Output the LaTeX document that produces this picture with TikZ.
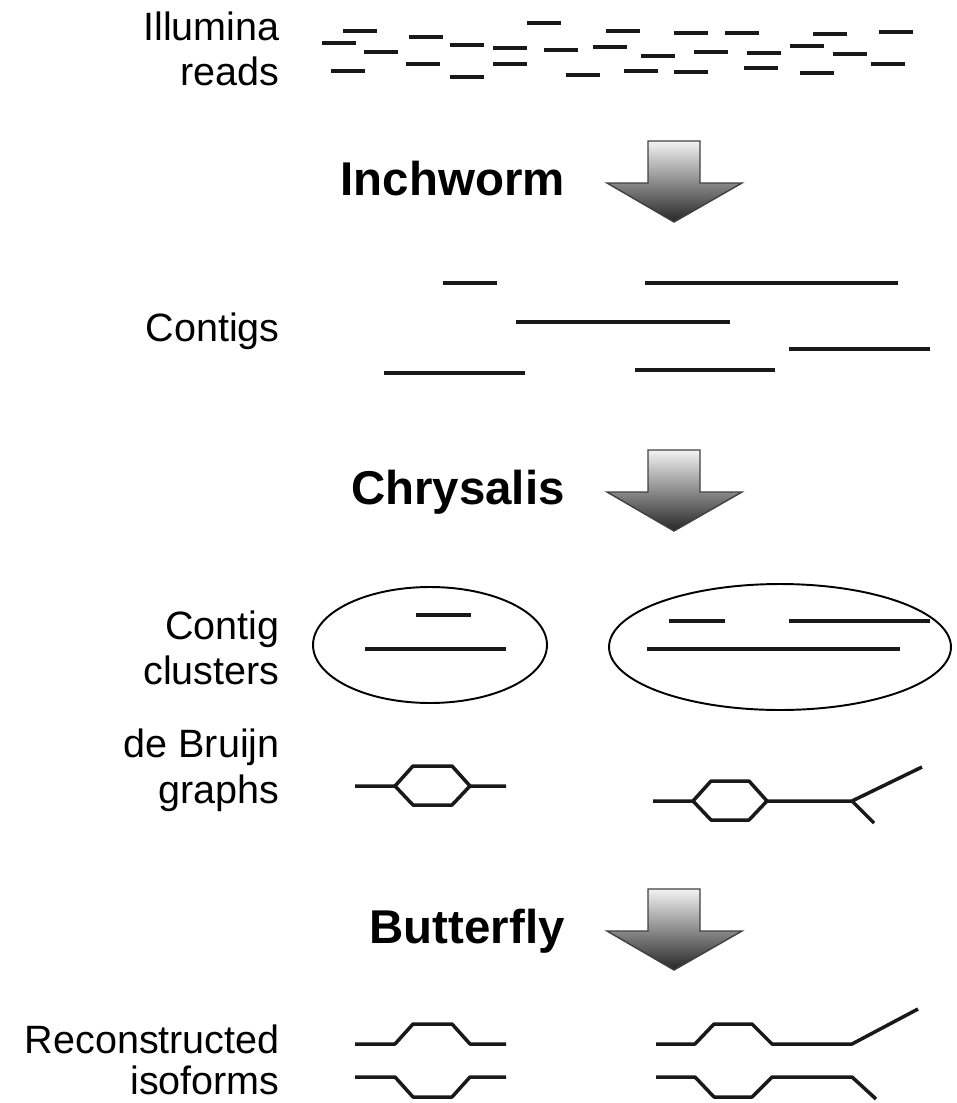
\documentclass[tikz,border=0pt]{standalone}
\usepackage{fontspec}
\setmainfont{Liberation Sans}
\usepackage{tikz}
\usetikzlibrary{positioning}

\begin{document}
\begin{tikzpicture}[x=0.02cm, y=-0.02cm,
    every node/.style={font=\fontsize{22.5}{26}\selectfont, inner sep=0pt},
    rowlabel/.style={anchor=east, align=right},
    stage/.style={anchor=base east, font=\fontsize{27}{32}\selectfont\bfseries},
    readline/.style={line width=2.1pt, draw=black!90},
    dbg/.style={line width=2pt, line join=round, draw=black!90},
    cluster/.style={line width=1.1pt},
    stagearrow/.style={draw=black!75, line width=0.8pt, line join=miter, top color=gray!10, bottom color=black!85}]
    \useasboundingbox (0,0) rectangle (957,1103);

    % row labels
    \node (reads) [rowlabel] at (280,49) {Illumina\\reads};
    \node (contigs) [rowlabel] at (280,331) {Contigs};
    \node (clusters) [rowlabel] at (280,648) {Contig\\clusters};
    \node (graphs) [rowlabel] at (280,770) {de Bruijn\\graphs};
    \node (isoforms) [rowlabel, font=\fontsize{22.5}{23}\selectfont] at (280,1060) {Reconstructed\\isoforms};

    % stages with their arrows
    \foreach \dy/\nm/\txt in {0/inchworm/Inchworm, 309/chrysalis/Chrysalis, 748/butterfly/Butterfly} {
      \node (\nm) [stage] at (565,195+\dy) {\txt};
      \draw[stagearrow] (648,141+\dy) -- (700,141+\dy) -- (700,183+\dy) -- (742,183+\dy)
        -- (674,222+\dy) -- (607,183+\dy) -- (648,183+\dy) -- cycle;
    }

    % Illumina reads
    \foreach \x/\y in {343/31, 322/43, 364/52, 331/71, 409/37, 406/64, 450/45, 450/77,
        493/48, 493/64, 527/23, 544/50, 566/75, 606/31, 593/47, 641/56, 624/71, 674/33,
        694/52, 674/72, 725/33, 747/53, 744/68, 790/46, 813/34, 833/54, 800/73, 879/32, 871/64}
      \draw[readline] (\x,\y) -- (\x+34,\y);

    % contigs
    \foreach \a/\b/\y in {443/497/283, 645/898/283, 516/730/322, 789/930/349, 384/525/373, 635/775/370}
      \draw[readline] (\a,\y) -- (\b,\y);

    % contig clusters
    \draw[cluster] (430,645) ellipse [x radius=2.34cm, y radius=1.16cm];
    \draw[readline] (416,615) -- (471,615);
    \draw[readline] (365,649) -- (506,649);
    \draw[cluster] (780,647) ellipse [x radius=3.42cm, y radius=1.26cm];
    \draw[readline] (669,621) -- (725,621);
    \draw[readline] (789,621) -- (930,621);
    \draw[readline] (647,649) -- (900,649);

    % de Bruijn graphs
    \draw[dbg] (355,786) -- (395,786) -- (413,766) -- (452,766) -- (470,786) -- (506,786);
    \draw[dbg] (395,786) -- (413,805) -- (452,805) -- (470,786);
    \draw[dbg] (653,801) -- (693,801) -- (711,781) -- (749,781) -- (767,801) -- (852,801) -- (922,767);
    \draw[dbg] (693,801) -- (711,820) -- (749,820) -- (767,801);
    \draw[dbg] (852,801) -- (874,823);

    % reconstructed isoforms
    \draw[dbg] (355,1044) -- (395,1044) -- (413,1024) -- (452,1024) -- (470,1044) -- (506,1044);
    \draw[dbg] (355,1077) -- (395,1077) -- (413,1097) -- (452,1097) -- (470,1077) -- (506,1077);
    \draw[dbg] (656,1044) -- (695,1044) -- (714,1024) -- (752,1024) -- (772,1044) -- (852,1044) -- (918,1009);
    \draw[dbg] (656,1077) -- (695,1077) -- (714,1097) -- (752,1097) -- (772,1077) -- (852,1077) -- (876,1099);
\end{tikzpicture}
\end{document}
